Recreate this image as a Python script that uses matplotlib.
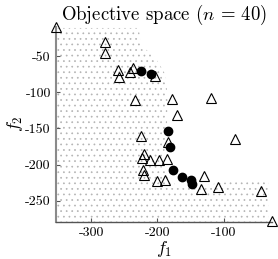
import numpy as np
import matplotlib
matplotlib.use("Agg")
import matplotlib.pyplot as plt

plt.rcParams["font.family"] = "serif"
plt.rcParams["font.serif"] = ["cmr10", "DejaVu Serif"]
plt.rcParams["mathtext.fontset"] = "cm"
plt.rcParams["axes.unicode_minus"] = False
plt.rcParams["axes.formatter.use_mathtext"] = False

# Pareto front (filled circles)
front_f1 = [-225, -210, -183.5, -181.5, -176.5, -163.5, -149.3, -147.8]
front_f2 = [-70.4, -75, -154, -175.7, -207.6, -217.6, -221.5, -226.4]

# Other evaluated points (triangles)
other_f1 = [-353.5, -279, -279, -260, -257.5, -241, -236.3, -203.5, -234, -177.5,
            -119, -170, -225, -183.8, -82.5, -219.8, -223.5, -211.5, -197.5, -186,
            -221.3, -219.8, -129.8, -201, -188.3, -135, -109, -44, -27.5]
other_f2 = [-9.3, -29.9, -46.3, -69.4, -78.5, -72.2, -66, -77.8, -111, -109.7,
            -107.9, -131.3, -160.4, -169.4, -164.3, -185.1, -190.3, -193.5, -193.1, -192.6,
            -207.6, -213.9, -216, -222.2, -220.8, -233.3, -230.6, -236.1, -278.7]

# Outline of the sampled (dotted) region of objective space
region_f1 = [-353.5, -228, -225, -202.5, -187.5, -184.5, -186, -192, -172.5, -135,
             -90, -33, -33, -353.5]
region_f2 = [-11.1, -11.1, -34.7, -52.8, -76.4, -111, -152.8, -201.4, -229.2, -229.2,
             -223.6, -222.2, -279, -279]

fig = plt.figure(figsize=(2.78, 2.59), dpi=100)
ax = fig.add_axes([0.2, 0.144, 0.778, 0.753])

plt.rcParams["hatch.linewidth"] = 0.5
ax.fill(region_f1, region_f2, facecolor="none", edgecolor="#b4b4b4",
        hatch="...", linewidth=0, zorder=1)

ax.plot(other_f1, other_f2, marker="^", linestyle="", color="none", ms=7.5,
        mec="black", mew=0.8, zorder=3, clip_on=False)
ax.plot(front_f1, front_f2, marker="o", linestyle="", color="black", ms=6,
        mec="black", zorder=4, clip_on=False)

ax.set_xlim(-353.5, -27.5)
ax.set_ylim(-279, -9.3)
ax.set_xticks([-300, -200, -100])
ax.set_yticks([-250, -200, -150, -100, -50])

for s in ["top", "right"]:
    ax.spines[s].set_visible(False)
ax.spines["left"].set_color("#8a8a8a")
ax.spines["left"].set_linewidth(1.5)
ax.spines["bottom"].set_color("#555555")
ax.spines["bottom"].set_linewidth(1.0)
ax.tick_params(direction="in", length=3, labelsize=10, colors="#555555",
               labelcolor="black")

ax.set_xlabel("$f_1$", fontsize=13, labelpad=0)
ax.set_ylabel("$f_2$", fontsize=13, labelpad=0)
ax.set_title("Objective space ($n$ = 40)", fontsize=13.5, pad=5)

fig.savefig("out.png", dpi=100)
